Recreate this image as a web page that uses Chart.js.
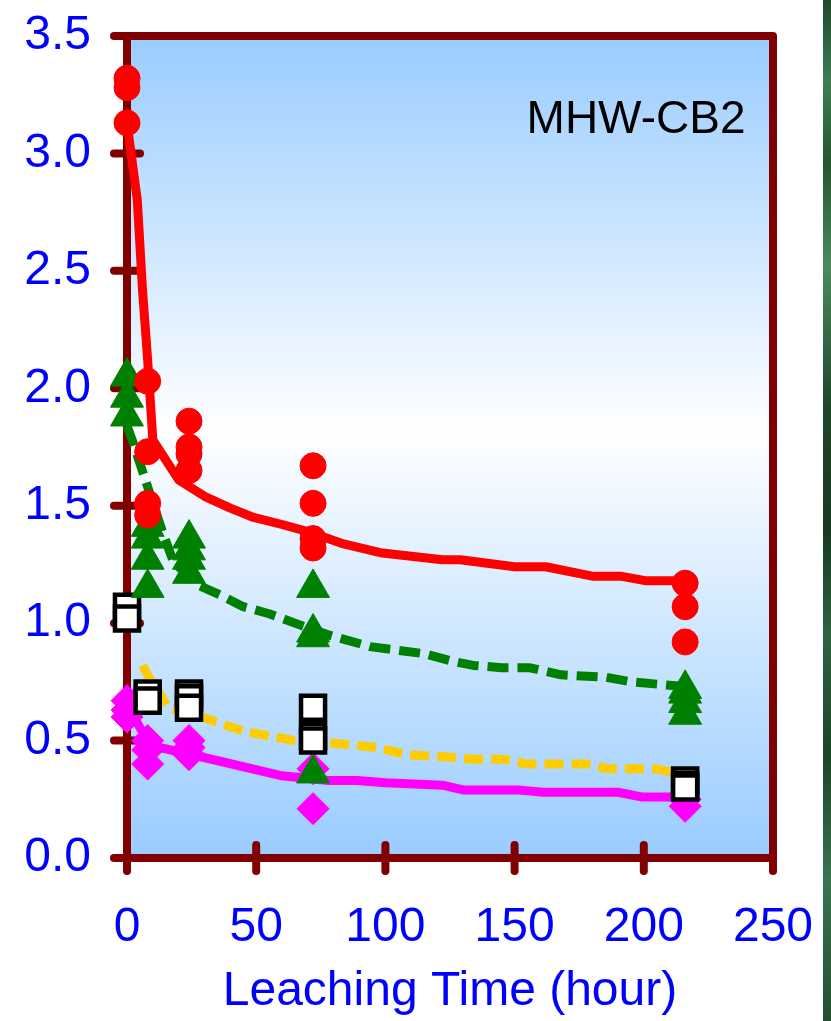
<!DOCTYPE html>
<html>
<head>
<meta charset="utf-8">
<title>MHW-CB2 leaching</title>
<script src="https://cdn.jsdelivr.net/npm/chart.js@4.4.1/dist/chart.umd.min.js"></script>
<style>
  html, body { margin: 0; padding: 0; background: #ffffff; }
  #wrap { position: relative; width: 831px; height: 1021px; overflow: hidden; }
  #plot { position: absolute; left: 0; top: 0; }
  #edge {
    position: absolute; left: 823px; top: 0; width: 8px; height: 1021px;
    background: linear-gradient(to bottom, #1d4a2a 0%, #3f7d55 8%, #24552f 16%, #4b8a60 26%,
      #1e4628 40%, #163a20 52%, #2e6440 62%, #1c4427 74%, #3a7450 86%, #22502e 100%);
  }
</style>
</head>
<body>
<div id="wrap">
  <canvas id="plot" width="831" height="1021"></canvas>
  <div id="edge"></div>
</div>
<script>
// Axis ticks
const xTickValues = [0, 50, 100, 150, 200, 250];
const yTickValues = [0, 0.5, 1.0, 1.5, 2.0, 2.5, 3.0, 3.5];

// Measured points (leaching time in hours, value)
const circleTimes  = [0, 0, 0, 8, 8, 8, 8, 24, 24, 24, 24, 72, 72, 72, 72, 216, 216, 216];
const circleValues = [3.32, 3.28, 3.13, 2.03, 1.73, 1.51, 1.46, 1.86, 1.75, 1.72, 1.65, 1.67, 1.51, 1.36, 1.32, 1.17, 1.07, 0.92];

const triangleTimes  = [0, 0, 0, 8, 8, 8, 8, 24, 24, 24, 24, 72, 72, 72, 72, 216, 216, 216, 216];
const triangleValues = [2.05, 1.96, 1.88, 1.41, 1.36, 1.27, 1.15, 1.36, 1.31, 1.27, 1.21, 1.15, 0.96, 0.94, 0.36, 0.72, 0.70, 0.66, 0.61];

const squareTimes  = [0, 0, 8, 8, 24, 24, 24, 72, 72, 72, 216, 216, 216];
const squareValues = [1.07, 1.02, 0.70, 0.67, 0.70, 0.68, 0.64, 0.64, 0.52, 0.50, 0.33, 0.31, 0.30];

const diamondTimes  = [0, 0, 0, 8, 8, 8, 24, 24, 24, 72, 72, 216, 216];
const diamondValues = [0.67, 0.63, 0.60, 0.50, 0.46, 0.40, 0.50, 0.47, 0.44, 0.38, 0.21, 0.25, 0.22];

// Fitted curves
const redFitTimes  = [0, 4, 6, 8, 10, 20, 30, 40, 49, 60, 70, 83, 98, 122, 129, 150, 162, 180, 191, 201, 216];
const redFitValues = [3.13, 2.80, 2.42, 2.12, 1.78, 1.61, 1.54, 1.49, 1.45, 1.42, 1.39, 1.34, 1.30, 1.27, 1.27, 1.24, 1.24, 1.20, 1.20, 1.18, 1.18];

const greenFitTimes  = [0, 2, 14, 18, 28, 36, 45, 55, 65, 78, 94, 115, 125, 134, 145, 156, 168, 185, 195, 216];
const greenFitValues = [1.84, 1.78, 1.38, 1.26, 1.16, 1.12, 1.07, 1.04, 1.00, 0.95, 0.90, 0.87, 0.84, 0.82, 0.81, 0.81, 0.78, 0.77, 0.75, 0.73];

const yellowFitTimes  = [6, 9, 16, 29, 45, 65, 79, 97, 108, 124, 134, 146, 155, 170, 178, 186, 205, 216];
const yellowFitValues = [0.82, 0.76, 0.64, 0.60, 0.54, 0.50, 0.49, 0.47, 0.44, 0.43, 0.42, 0.42, 0.40, 0.40, 0.40, 0.38, 0.38, 0.35];

const pinkFitTimes  = [0, 9, 29, 60, 78, 89, 100, 122, 130, 151, 161, 190, 199, 216];
const pinkFitValues = [0.65, 0.48, 0.43, 0.35, 0.33, 0.33, 0.32, 0.31, 0.29, 0.29, 0.28, 0.28, 0.26, 0.26];

const panelLabel = 'MHW-CB2';
const xTitle = 'Leaching Time (hour)';

const FONT = '"Liberation Sans", Arial, Helvetica, sans-serif';
const AXIS_RED = '#800000';

function pairs(xs, ys) { return xs.map((x, i) => ({ x: x, y: ys[i] })); }

// Fixed axis box sizes; no extra overflow padding around the plot area
function fixSize(prop, size) {
  return function (scale) {
    scale[prop] = size;
    scale.paddingLeft = 0; scale.paddingRight = 0;
    scale.paddingTop = 0; scale.paddingBottom = 0;
  };
}

// Gradient plot background, frame, crossing tick marks and panel label
const framePlugin = {
  id: 'frame',
  beforeDraw(chart) {
    const { ctx, chartArea: a } = chart;
    const g = ctx.createLinearGradient(0, a.top, 0, a.bottom);
    g.addColorStop(0, '#99CCFF');
    g.addColorStop(0.48, '#FFFFFF');
    g.addColorStop(1, '#99CCFF');
    ctx.save();
    ctx.fillStyle = g;
    ctx.fillRect(a.left, a.top, a.right - a.left, a.bottom - a.top);
    ctx.restore();
  },
  beforeDatasetsDraw(chart) {
    const { ctx, chartArea: a, scales } = chart;
    ctx.save();
    ctx.strokeStyle = AXIS_RED;
    ctx.lineWidth = 8;
    ctx.lineJoin = 'round';
    ctx.lineCap = 'round';
    ctx.strokeRect(a.left, a.top, a.right - a.left, a.bottom - a.top);
    yTickValues.forEach(v => {
      const y = scales.y.getPixelForValue(v);
      ctx.beginPath();
      ctx.moveTo(a.left - 13, y);
      ctx.lineTo(a.left + 13, y);
      ctx.stroke();
    });
    xTickValues.forEach(v => {
      const x = scales.x.getPixelForValue(v);
      ctx.beginPath();
      ctx.moveTo(x, a.bottom - 13);
      ctx.lineTo(x, a.bottom + 13);
      ctx.stroke();
    });
    ctx.fillStyle = '#000000';
    ctx.font = '46px ' + FONT;
    ctx.textAlign = 'center';
    ctx.textBaseline = 'alphabetic';
    ctx.fillText(panelLabel, scales.x.getPixelForValue(197), scales.y.getPixelForValue(3.085));
    ctx.restore();
  }
};

const lineBase = { showLine: true, pointRadius: 0, borderWidth: 9, fill: false, tension: 0, order: 10, clip: false, borderCapStyle: 'butt', borderJoinStyle: 'round' };
const markerBase = { showLine: false, clip: false };

const chart = new Chart(document.getElementById('plot'), {
  type: 'scatter',
  data: {
    datasets: [
      Object.assign({}, lineBase, { label: 'fit 1', data: pairs(redFitTimes, redFitValues), borderColor: '#FF0000' }),
      Object.assign({}, lineBase, { label: 'fit 2', data: pairs(greenFitTimes, greenFitValues), borderColor: '#008000', borderDash: [21, 9] }),
      Object.assign({}, lineBase, { label: 'fit 3', data: pairs(yellowFitTimes, yellowFitValues), borderColor: '#FFCC00', borderDash: [19, 8] }),
      Object.assign({}, lineBase, { label: 'fit 4', data: pairs(pinkFitTimes, pinkFitValues), borderColor: '#FF00FF' }),
      Object.assign({}, markerBase, { label: 'diamonds', data: pairs(diamondTimes, diamondValues), pointStyle: 'rectRot', pointRadius: 16, pointBackgroundColor: '#FF00FF', pointBorderColor: '#FF00FF', pointBorderWidth: 1, order: 4 }),
      Object.assign({}, markerBase, { label: 'squares', data: pairs(squareTimes, squareValues), pointStyle: 'rect', pointRadius: 17, pointBackgroundColor: '#FFFFFF', pointBorderColor: '#000000', pointBorderWidth: 4.5, order: 3 }),
      Object.assign({}, markerBase, { label: 'triangles', data: pairs(triangleTimes, triangleValues), pointStyle: 'triangle', pointRadius: 19, pointBackgroundColor: '#008000', pointBorderColor: '#008000', pointBorderWidth: 1, order: 2 }),
      Object.assign({}, markerBase, { label: 'circles', data: pairs(circleTimes, circleValues), pointStyle: 'circle', pointRadius: 13, pointBackgroundColor: '#FF0000', pointBorderColor: '#FF0000', pointBorderWidth: 1, order: 1 })
    ]
  },
  options: {
    responsive: false,
    animation: false,
    devicePixelRatio: 1,
    layout: { padding: { left: 0, top: 36, right: 58, bottom: 0 } },
    plugins: { legend: { display: false }, tooltip: { enabled: false } },
    scales: {
      x: {
        type: 'linear', min: 0, max: 250,
        afterFit: fixSize('height', 163),
        afterBuildTicks(scale) { scale.ticks = xTickValues.map(v => ({ value: v })); },
        grid: { display: false, drawTicks: false },
        border: { display: true, color: AXIS_RED, width: 8 },
        ticks: { color: '#0000FF', font: { family: FONT, size: 48 }, padding: 41, maxRotation: 0, autoSkip: false,
                 callback: v => String(v) },
        title: { display: true, text: xTitle, color: '#0000FF', font: { family: FONT, size: 48 }, padding: { top: 0, bottom: 0 } }
      },
      y: {
        type: 'linear', min: 0, max: 3.5,
        afterFit: fixSize('width', 127),
        afterBuildTicks(scale) { scale.ticks = yTickValues.map(v => ({ value: v })); },
        grid: { display: false, drawTicks: false },
        border: { display: true, color: AXIS_RED, width: 8 },
        ticks: { color: '#0000FF', font: { family: FONT, size: 48 }, padding: 36, autoSkip: false,
                 callback: v => Number(v).toFixed(1) }
      }
    }
  },
  plugins: [framePlugin]
});
</script>
</body>
</html>
